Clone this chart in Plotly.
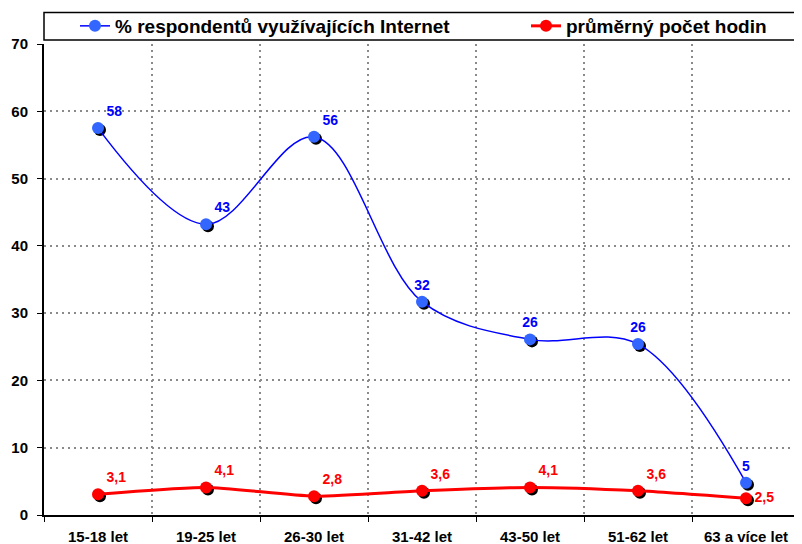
import plotly.graph_objects as go

categories = ["15-18 let", "19-25 let", "26-30 let", "31-42 let", "43-50 let", "51-62 let", "63 a více let"]
internet_pct = [57.5, 43.2, 56.2, 31.7, 26.1, 25.4, 4.8]
internet_labels = ["58", "43", "56", "32", "26", "26", "5"]
hours_avg = [3.1, 4.1, 2.8, 3.6, 4.1, 3.6, 2.5]
hours_labels = ["3,1", "4,1", "2,8", "3,6", "4,1", "3,6", "2,5"]

name_internet = "% respondentů využívajících Internet"
name_hours = "průměrný počet hodin"

FONT = "Liberation Sans, Arial, sans-serif"
BLUE_LINE = "#0000ff"
BLUE_MARK = "#3366ff"
RED = "#ff0000"

FIG_W, FIG_H = 794, 536          # page body has an 8px margin
OFF = 8
W_PX, H_PX = 758, 473
ex = 2 / W_PX
ey = 2 / H_PX

fig = go.Figure()

# shadows (drawn on shifted hidden axes)
for vals in (internet_pct, hours_avg):
    fig.add_trace(go.Scatter(
        x=categories, y=vals, mode="markers", xaxis="x", yaxis="y",
        marker=dict(size=12, color="black"), showlegend=False, hoverinfo="skip"))

fig.add_trace(go.Scatter(
    x=categories, y=internet_pct, name=name_internet, xaxis="x2", yaxis="y2", legend="legend",
    mode="lines+markers+text", line=dict(color=BLUE_LINE, width=1.5, shape="spline", smoothing=1),
    marker=dict(size=12, color=BLUE_MARK),
    text=internet_labels,
    textposition=["top right", "top right", "top right", "top center", "top center", "top center", "top center"],
    textfont=dict(family=FONT, size=14, color=BLUE_LINE, weight="bold")))

fig.add_trace(go.Scatter(
    x=categories, y=hours_avg, name=name_hours, xaxis="x2", yaxis="y2", legend="legend2",
    mode="lines+markers+text", line=dict(color=RED, width=3, shape="spline", smoothing=0.6),
    marker=dict(size=12, color=RED),
    text=hours_labels,
    textposition=["top right"] * 6 + ["middle right"],
    textfont=dict(family=FONT, size=14, color=RED, weight="bold")))

grid = dict(showgrid=True, gridcolor="#8a8a8a", gridwidth=1.6, griddash="2px,4px")
leg_common = dict(orientation="h", xref="container", yref="container", xanchor="left",
                  y=1 - (26 - OFF) / FIG_H, yanchor="middle",
                  bgcolor="rgba(0,0,0,0)", borderwidth=0,
                  font=dict(family=FONT, size=19, weight="bold", color="black"))

fig.update_layout(
    width=FIG_W, height=FIG_H,
    margin=dict(l=44 - OFF, r=0, t=44 - OFF, b=27, pad=0, autoexpand=False),
    paper_bgcolor="white", plot_bgcolor="rgba(0,0,0,0)",
    font=dict(family=FONT, color="black"),
    xaxis=dict(domain=[ex, 1], anchor="y", type="category", range=[-0.5, 6.5], visible=False),
    yaxis=dict(domain=[0, 1 - ey], anchor="x", range=[0, 70], visible=False),
    xaxis2=dict(domain=[0, 1 - ex], anchor="y2", type="category", range=[-0.5, 6.5],
                tickson="boundaries", ticks="outside", ticklen=5, tickcolor="black", tickwidth=1,
                showline=True, linecolor="black", linewidth=2, ticklabelstandoff=7,
                tickfont=dict(family=FONT, size=15, weight="bold"), **grid),
    yaxis2=dict(domain=[ey, 1], anchor="x2", range=[0, 70], dtick=10, ticks="outside", ticklen=5,
                tickcolor="black", showline=True, linecolor="black", linewidth=2, zeroline=False,
                ticklabelstandoff=6,
                tickfont=dict(family=FONT, size=15, weight="bold"), **grid),
    showlegend=True,
    legend=dict(x=(75 - OFF) / FIG_W, **leg_common),
    legend2=dict(x=(526 - OFF) / FIG_W, **leg_common),
    shapes=[dict(type="rect", xref="paper", yref="paper", x0=0, x1=1.01,
                 y0=(517 - 40) / H_PX, y1=(517 - 12.5) / H_PX,
                 line=dict(color="black", width=1.5), fillcolor="rgba(0,0,0,0)")],
)

fig.write_html("out.html")
